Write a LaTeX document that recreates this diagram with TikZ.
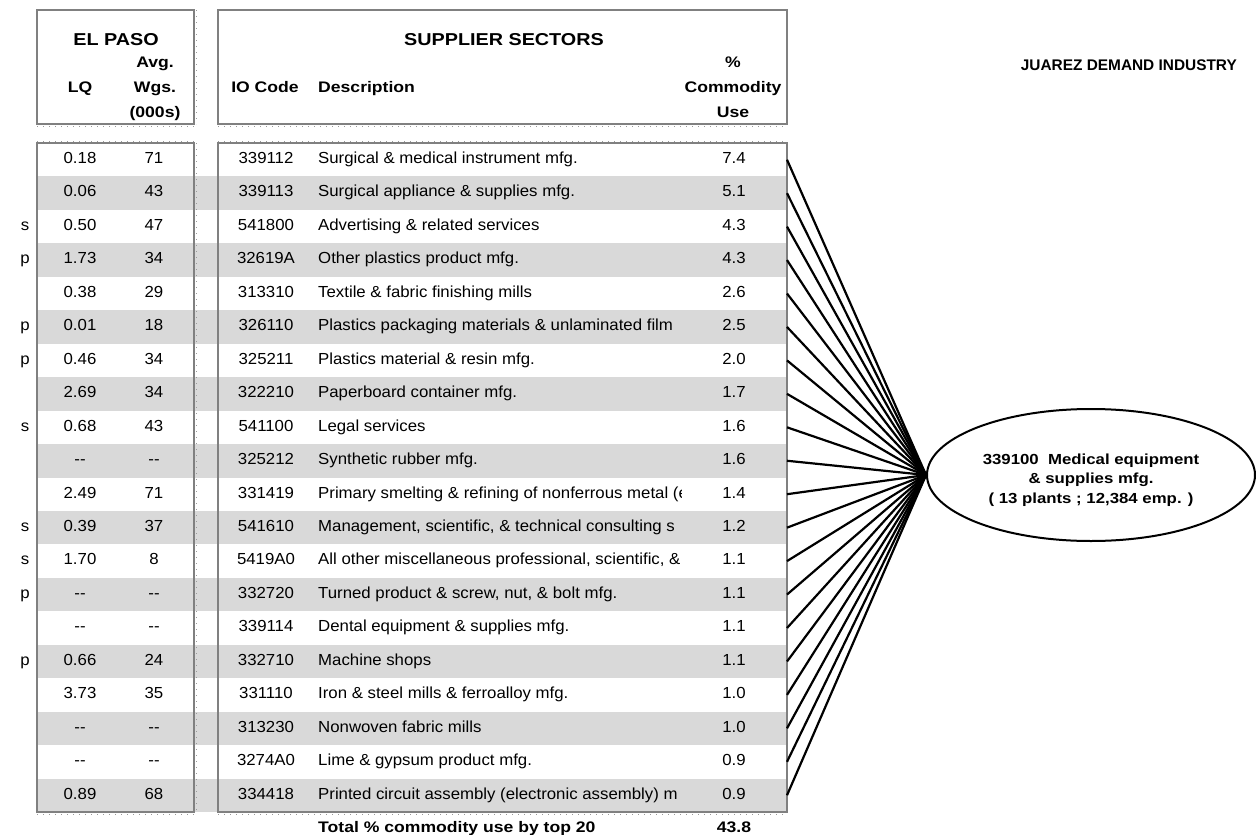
\documentclass[tikz,border=0pt]{standalone}
\usepackage{fontspec}
\setmainfont{Liberation Sans}
\newfontfamily\rg{Liberation Sans}[FakeStretch=1.05]
\newfontfamily\bd{Liberation Sans}[FakeStretch=1.15]
\newfontfamily\bdn{Liberation Sans}
\usetikzlibrary{shapes.geometric}

\begin{document}
\begin{tikzpicture}[x=1pt,y=-1pt,
  cell/.style={font=\rg\fontsize{16}{19}\selectfont, anchor=base, inner sep=0pt},
  celll/.style={cell, anchor=base west},
  hd/.style={font=\bd\bfseries\fontsize{15.3}{18}\selectfont, anchor=base, inner sep=0pt},
  ttl/.style={font=\bd\bfseries\fontsize{17.2}{20}\selectfont, anchor=base, inner sep=0pt},
  frame/.style={draw=gray, line width=2.5pt},
  stripe/.style={fill=gray!30},
  link/.style={line width=2.2pt, black},
  ticks/.style={draw=gray!80, line width=0.8pt, dash pattern=on 1pt off 5pt}
]
\useasboundingbox (0,0) rectangle (1256,835);

% shaded alternate rows
\foreach \i in {2,4,...,20}
  \fill[stripe] (37,{143+(\i-1)*33.45}) rectangle (787,{143+\i*33.45});

% header and body frames
\draw[frame] (37,10) rectangle (194,124);
\draw[frame] (218,10) rectangle (787,124);
\draw[frame] (37,143) rectangle (194,812);
\draw[frame] (218,143) rectangle (787,812);

% light sheet gridline ticks
\draw[ticks] (37,126) -- (194,126) (218,126) -- (787,126);
\draw[ticks] (37,141) -- (194,141) (218,141) -- (787,141);
\draw[ticks] (37,814) -- (194,814) (218,814) -- (787,814);
\draw[ticks] (196.5,10) -- (196.5,124) (196.5,143) -- (196.5,812);

% headers
\node[ttl] (elpaso) at (116,45.5) {EL PASO};
\node[hd] (lq) at (80,92) {LQ};
\node[hd] (avg1) at (155,67) {Avg.};
\node[hd] (avg2) at (155,92) {Wgs.};
\node[hd] (avg3) at (155,117) {(000s)};
\node[ttl] (supp) at (504,45.5) {SUPPLIER SECTORS};
\node[hd] (io) at (265,92) {IO Code};
\node[hd, anchor=base west] (desc) at (318,92) {Description};
\node[hd] (pc1) at (733,67) {\%};
\node[hd] (pc2) at (733,92) {Commodity};
\node[hd] (pc3) at (733,117) {Use};
\node[font=\bdn\bfseries\fontsize{15.4}{18}\selectfont, anchor=base east, inner sep=0pt] (jdi) at (1237,70) {JUAREZ DEMAND INDUSTRY};

% table rows
\foreach \i/\m/\lq/\w/\code/\pct in {
  1//0.18/71/339112/7.4,
  2//0.06/43/339113/5.1,
  3/s/0.50/47/541800/4.3,
  4/p/1.73/34/32619A/4.3,
  5//0.38/29/313310/2.6,
  6/p/0.01/18/326110/2.5,
  7/p/0.46/34/325211/2.0,
  8//2.69/34/322210/1.7,
  9/s/0.68/43/541100/1.6,
  10//--/--/325212/1.6,
  11//2.49/71/331419/1.4,
  12/s/0.39/37/541610/1.2,
  13/s/1.70/8/5419A0/1.1,
  14/p/--/--/332720/1.1,
  15//--/--/339114/1.1,
  16/p/0.66/24/332710/1.1,
  17//3.73/35/331110/1.0,
  18//--/--/313230/1.0,
  19//--/--/3274A0/0.9,
  20//0.89/68/334418/0.9}{
  \node[cell] (m\i) at (25,{143+(\i-1)*33.45+20.5}) {\m};
  \node[cell] (lq\i) at (80,{143+(\i-1)*33.45+20.5}) {\lq};
  \node[cell] (w\i) at (154,{143+(\i-1)*33.45+20.5}) {\w};
  \node[cell] (c\i) at (266,{143+(\i-1)*33.45+20.5}) {\code};
  \node[cell] (p\i) at (734,{143+(\i-1)*33.45+20.5}) {\pct};
  \coordinate (r\i) at (787,{143+(\i-1)*33.45+16.7});
}

% descriptions, cut off at the column edge
\begin{scope}
\clip (300,143) rectangle (681,812);
\foreach \i/\d in {
  1/{Surgical \& medical instrument mfg.},
  2/{Surgical appliance \& supplies mfg.},
  3/{Advertising \& related services},
  4/{Other plastics product mfg.},
  5/{Textile \& fabric finishing mills},
  6/{Plastics packaging materials \& unlaminated film},
  7/{Plastics material \& resin mfg.},
  8/{Paperboard container mfg.},
  9/{Legal services},
  10/{Synthetic rubber mfg.},
  11/{Primary smelting \& refining of nonferrous metal (e},
  12/{Management, scientific, \& technical consulting s},
  13/{All other miscellaneous professional, scientific, \&},
  14/{Turned product \& screw, nut, \& bolt mfg.},
  15/{Dental equipment \& supplies mfg.},
  16/{Machine shops},
  17/{Iron \& steel mills \& ferroalloy mfg.},
  18/{Nonwoven fabric mills},
  19/{Lime \& gypsum product mfg.},
  20/{Printed circuit assembly (electronic assembly) m}}
  \node[celll] (d\i) at (318,{143+(\i-1)*33.45+20.5}) {\d};
\end{scope}

% total line
\node[hd, anchor=base west] (tot) at (318,832) {Total \% commodity use by top 20};
\node[hd] (totv) at (734,832) {43.8};

% demand industry
\node[ellipse, draw, line width=2pt, minimum width=328pt, minimum height=132pt,
      inner sep=0pt] (dem) at (1091,475) {};
\node[align=center, inner sep=0pt, yshift=-5pt,
      font=\bd\bfseries\fontsize{14.6}{19.5}\selectfont] (demtxt) at (dem.center)
      {339100\ \ Medical equipment\\\& supplies mfg.\\( 13 plants ; 12,384 emp. )};

% supplier links
\foreach \i in {1,...,20}
  \draw[link] (r\i) -- (dem.west);
\end{tikzpicture}
\end{document}
